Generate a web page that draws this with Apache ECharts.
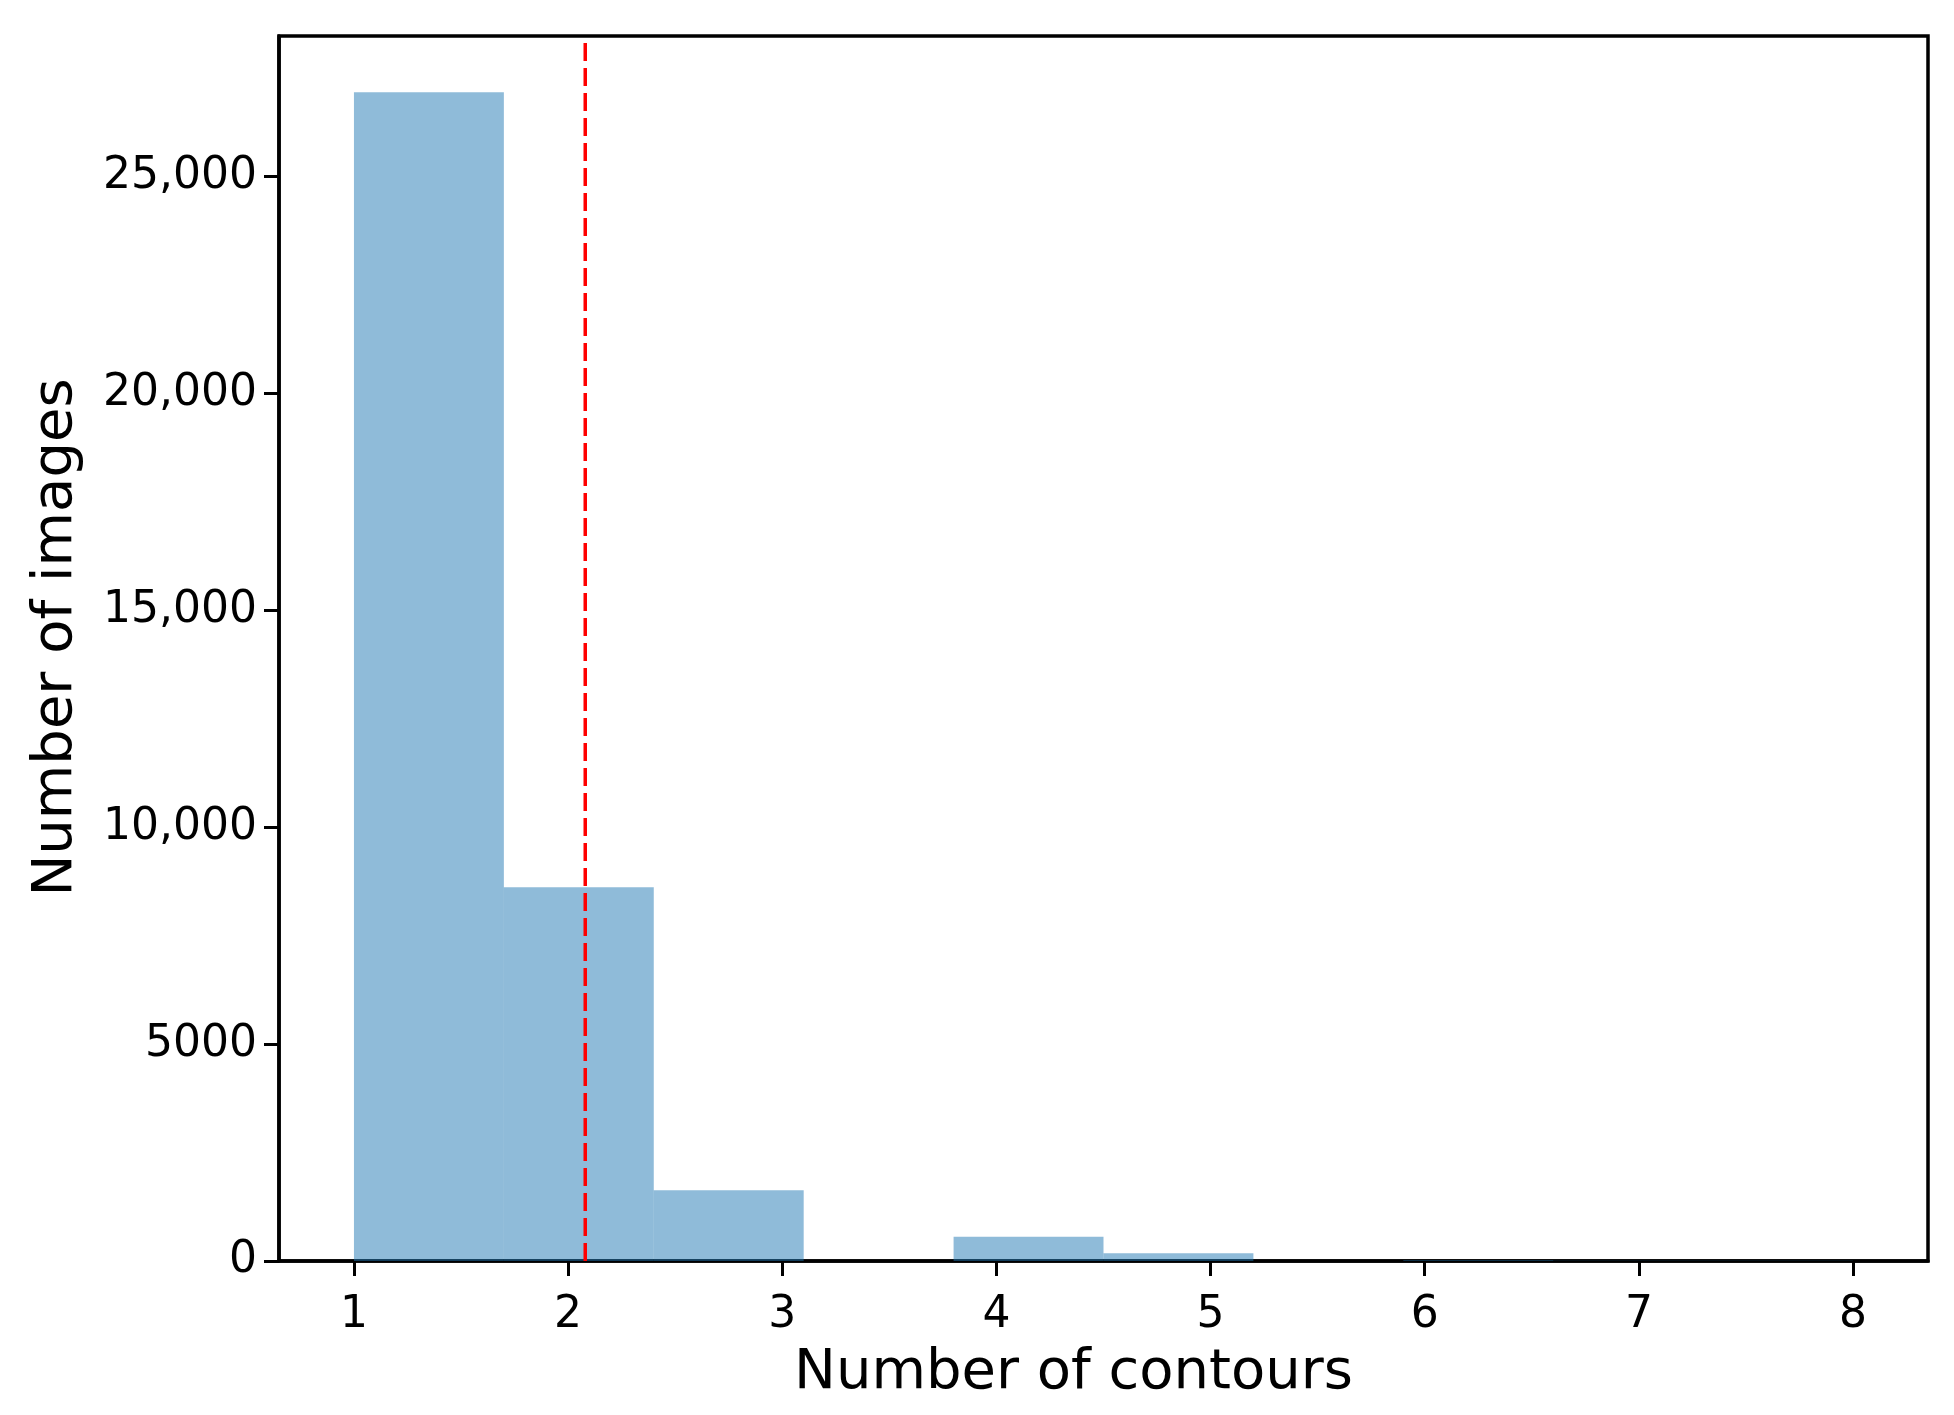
<!DOCTYPE html>
<html>
<head>
<meta charset="utf-8">
<script src="https://cdn.jsdelivr.net/npm/echarts@6/dist/echarts.min.js"></script>
<style>
  html, body { margin: 0; padding: 0; background: #fff; }
  #chart { width: 1954px; height: 1415px; }
</style>
</head>
<body>
<div id="chart"></div>
<script>
// histogram bins (edges) and counts
var binEdges = [1, 1.7, 2.4, 3.1, 3.8, 4.5, 5.2, 5.9, 6.6, 7.3, 8];
var counts = [26950, 8620, 1630, 0, 560, 180, 0, 20, 8, 3];
var xTicks = [1, 2, 3, 4, 5, 6, 7, 8];
var yTicks = [0, 5000, 10000, 15000, 20000, 25000];
var yTickLabels = ['0', '5000', '10,000', '15,000', '20,000', '25,000'];
var meanValue = 2.08;
var xMin = 0.65, xMax = 8.35, yMax = 28245;

var histData = [];
for (var i = 0; i < counts.length; i++) {
    histData.push([binEdges[i], binEdges[i + 1], counts[i]]);
}

var chart = echarts.init(document.getElementById('chart'));
var font = 'DejaVu Sans';

var option = {
    backgroundColor: '#fff',
    animation: false,
    grid: {
        left: 279, right: 26, top: 36, bottom: 154,
        show: true, borderColor: '#000', borderWidth: 3.5
    },
    xAxis: {
        type: 'value', min: xMin, max: xMax,
        name: 'Number of contours', nameLocation: 'middle', nameGap: 84,
        nameTextStyle: { fontFamily: font, fontSize: 56, color: '#000', padding: [0, 60, 0, 0] },
        axisLine: { show: true, lineStyle: { color: '#000', width: 3.5 } },
        axisTick: { show: true, length: 15, customValues: xTicks, lineStyle: { color: '#000', width: 3 } },
        axisLabel: { customValues: xTicks, margin: 33, fontFamily: font, fontSize: 44, color: '#000' },
        splitLine: { show: false }
    },
    yAxis: {
        type: 'value', min: 0, max: yMax,
        name: 'Number of images', nameLocation: 'middle', nameGap: 195,
        nameTextStyle: { fontFamily: font, fontSize: 56, color: '#000', padding: [0, 0, 0, 22] },
        axisLine: { show: true, lineStyle: { color: '#000', width: 3.5 } },
        axisTick: { show: true, length: 15, customValues: yTicks, lineStyle: { color: '#000', width: 3 } },
        axisLabel: {
            customValues: yTicks, margin: 22, fontFamily: font, fontSize: 44, color: '#000',
            formatter: function (v) {
                var idx = yTicks.indexOf(v);
                return idx >= 0 ? yTickLabels[idx] : '';
            }
        },
        splitLine: { show: false }
    },
    series: [
        {
            type: 'custom',
            data: histData,
            encode: { x: [0, 1], y: 2 },
            renderItem: function (params, api) {
                var p0 = api.coord([api.value(0), api.value(2)]);
                var p1 = api.coord([api.value(1), 0]);
                return {
                    type: 'rect',
                    shape: { x: p0[0], y: p0[1], width: p1[0] - p0[0], height: p1[1] - p0[1] },
                    style: { fill: '#1f77b4', opacity: 0.5 }
                };
            },
            z: 2
        },
        {
            type: 'line',
            data: [[meanValue, 0], [meanValue, yMax]],
            symbol: 'none',
            lineStyle: { color: '#ff0000', width: 3.5, type: [18, 7] },
            z: 3
        }
    ]
};
chart.setOption(option);
</script>
</body>
</html>
